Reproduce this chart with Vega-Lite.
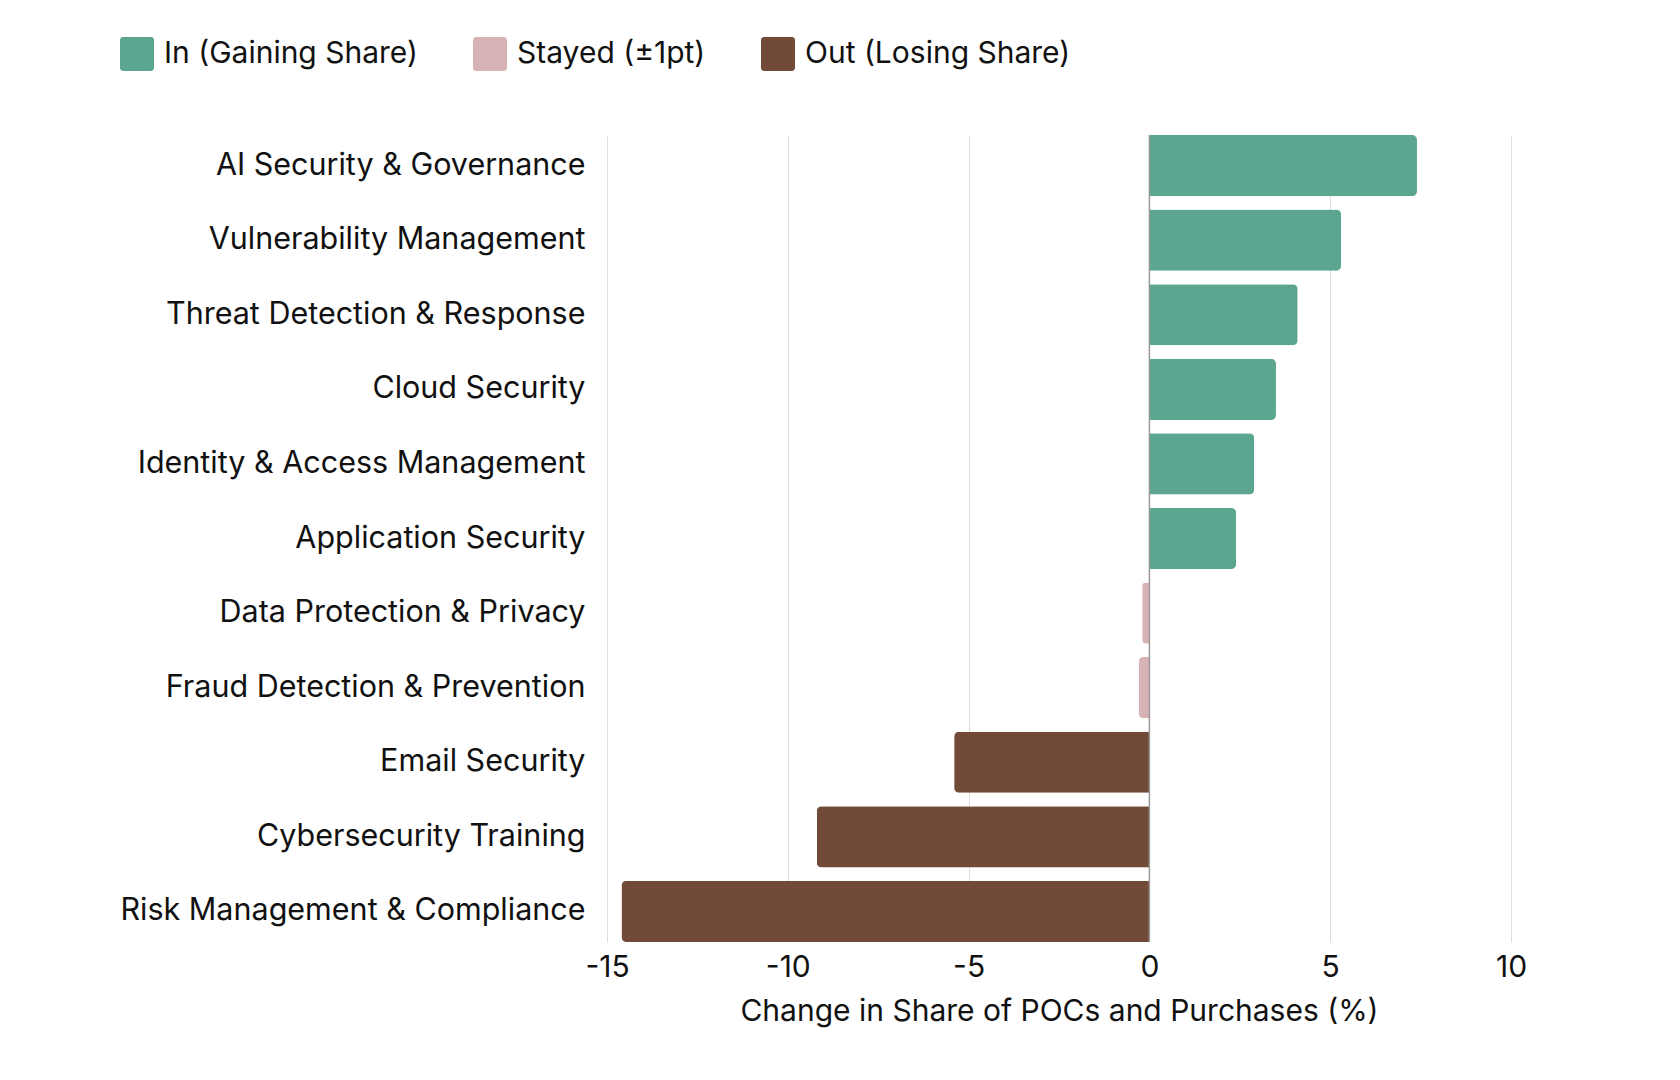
{
  "$schema": "https://vega.github.io/schema/vega-lite/v6.json",
  "width": 904,
  "height": 807,
  "autosize": "none",
  "padding": {"left": 607, "top": 135, "right": 169, "bottom": 138},
  "background": "white",
  "data": {
    "values": [
      {"category": "AI Security & Governance", "change": 7.4, "status": "In (Gaining Share)"},
      {"category": "Vulnerability Management", "change": 5.3, "status": "In (Gaining Share)"},
      {"category": "Threat Detection & Response", "change": 4.1, "status": "In (Gaining Share)"},
      {"category": "Cloud Security", "change": 3.5, "status": "In (Gaining Share)"},
      {"category": "Identity & Access Management", "change": 2.9, "status": "In (Gaining Share)"},
      {"category": "Application Security", "change": 2.4, "status": "In (Gaining Share)"},
      {"category": "Data Protection & Privacy", "change": -0.2, "status": "Stayed (±1pt)"},
      {"category": "Fraud Detection & Prevention", "change": -0.3, "status": "Stayed (±1pt)"},
      {"category": "Email Security", "change": -5.4, "status": "Out (Losing Share)"},
      {"category": "Cybersecurity Training", "change": -9.2, "status": "Out (Losing Share)"},
      {"category": "Risk Management & Compliance", "change": -14.6, "status": "Out (Losing Share)"}
    ]
  },
  "layer": [
    {
      "transform": [{"filter": "datum.change >= 0"}],
      "mark": {"type": "bar", "cornerRadiusTopRight": 5, "cornerRadiusBottomRight": 5},
      "encoding": {
        "y": {
          "field": "category", "type": "nominal", "title": null,
          "sort": {"field": "change", "op": "max", "order": "descending"},
          "scale": {"paddingInner": 0.18, "paddingOuter": 0}
        },
        "x": {
          "field": "change", "type": "quantitative",
          "scale": {"domain": [-15, 10], "nice": false, "zero": false},
          "axis": {
            "values": [-15, -10, -5, 0, 5, 10],
            "labelExpr": "'' + datum.value",
            "labelFlush": false,
            "title": "Change in Share of POCs and Purchases (%)"
          }
        },
        "color": {
          "field": "status", "type": "nominal",
          "scale": {
            "domain": ["In (Gaining Share)", "Stayed (±1pt)", "Out (Losing Share)"],
            "range": ["#5ba591", "#d8b3b6", "#714a38"]
          }
        }
      }
    },
    {
      "transform": [{"filter": "datum.change < 0"}],
      "mark": {"type": "bar", "cornerRadiusTopLeft": 5, "cornerRadiusBottomLeft": 5},
      "encoding": {
        "y": {
          "field": "category", "type": "nominal", "title": null,
          "sort": {"field": "change", "op": "max", "order": "descending"},
          "scale": {"paddingInner": 0.18, "paddingOuter": 0}
        },
        "x": {"field": "change", "type": "quantitative"},
        "color": {
          "field": "status", "type": "nominal",
          "scale": {
            "domain": ["In (Gaining Share)", "Stayed (±1pt)", "Out (Losing Share)"],
            "range": ["#5ba591", "#d8b3b6", "#714a38"]
          }
        }
      }
    },
    {
      "data": {"values": [{"zero": 0}]},
      "mark": {"type": "rule", "color": "#999999", "strokeWidth": 1.5},
      "encoding": {"x": {"field": "zero", "type": "quantitative"}}
    }
  ],
  "config": {
    "font": "Inter",
    "view": {"stroke": null},
    "axisY": {
      "labelFontSize": 30.5, "labelPadding": 22, "labelColor": "#111111",
      "ticks": false, "domain": false, "grid": false, "labelLimit": 600
    },
    "axisX": {
      "grid": true, "gridColor": "#dddddd", "domain": false, "ticks": false,
      "labelFontSize": 30, "labelPadding": 10, "labelColor": "#111111",
      "titleFontSize": 30, "titleFontWeight": "normal", "titleColor": "#111111",
      "titlePadding": 14
    },
    "legend": {
      "orient": "none", "legendX": -487, "legendY": -98,
      "direction": "horizontal", "title": null, "padding": 0,
      "symbolType": "M-0.8,-1L0.8,-1Q1,-1 1,-0.8L1,0.8Q1,1 0.8,1L-0.8,1Q-1,1 -1,0.8L-1,-0.8Q-1,-1 -0.8,-1Z",
      "symbolSize": 1156, "symbolStrokeWidth": 0, "symbolOpacity": 1,
      "labelFontSize": 30, "labelOffset": 10, "labelColor": "#111111",
      "columnPadding": 55, "labelLimit": 500
    }
  }
}
